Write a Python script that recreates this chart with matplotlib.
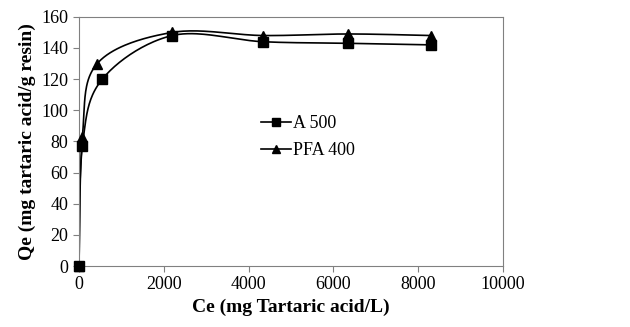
import numpy as np
import matplotlib.pyplot as plt

plt.rcParams['font.family'] = ['Liberation Serif', 'DejaVu Serif']

# data
ce_a500 = [0, 80, 550, 2200, 4350, 6350, 8300]
qe_a500 = [0, 77, 120, 148, 144, 143, 142]
ce_pfa400 = [0, 80, 430, 2200, 4350, 6350, 8300]
qe_pfa400 = [0, 83, 130, 150, 148, 149, 148]


def smooth(x, y, n=40):
    # catmull-rom style curve through the points (like excel smoothed lines)
    x = np.asarray(x, float)
    y = np.asarray(y, float)
    px = np.concatenate([[x[0]], x, [x[-1]]])
    py = np.concatenate([[y[0]], y, [y[-1]]])
    xs, ys = [], []
    t = np.linspace(0, 1, n)
    for i in range(1, len(px) - 2):
        p0, p1, p2, p3 = (np.array([px[j], py[j]]) for j in (i - 1, i, i + 1, i + 2))
        c1 = p1 + (p2 - p0) / 6
        c2 = p2 - (p3 - p1) / 6
        b = ((1 - t) ** 3)[:, None] * p1 + (3 * (1 - t) ** 2 * t)[:, None] * c1 \
            + (3 * (1 - t) * t ** 2)[:, None] * c2 + (t ** 3)[:, None] * p2
        xs.extend(b[:, 0])
        ys.extend(b[:, 1])
    return xs, ys


fig = plt.figure(figsize=(6.3, 3.27), dpi=100)
ax = fig.add_axes([0.1254, 0.1865, 0.673, 0.762])

sx, sy = smooth(ce_a500, qe_a500)
ax.plot(sx, sy, color='black', lw=1.2)
ax.plot(ce_a500, qe_a500, 's', color='black', ms=6.5, clip_on=False, zorder=5)
sx, sy = smooth(ce_pfa400, qe_pfa400)
ax.plot(sx, sy, color='black', lw=1.2)
ax.plot(ce_pfa400, qe_pfa400, '^', color='black', ms=6.5, clip_on=False, zorder=4)

h1, = ax.plot([], [], '-s', color='black', ms=5.5, lw=1.2)
h2, = ax.plot([], [], '-^', color='black', ms=5.5, lw=1.2)
ax.legend([h1, h2], ['A 500', 'PFA 400'], loc='upper left',
          bbox_to_anchor=(0.43, 0.605), frameon=False, fontsize=13,
          borderpad=0, borderaxespad=0,
          handlelength=1.65, handletextpad=0.1, labelspacing=0.55)

ax.set_xlim(0, 10000)
ax.set_ylim(0, 160)
ax.set_xticks(range(0, 10001, 2000))
ax.set_yticks(range(0, 161, 20))
for s in ax.spines.values():
    s.set_color('#808080')
ax.tick_params(colors='#808080', labelcolor='black', labelsize=13, length=4)
ax.set_xlabel('Ce (mg Tartaric acid/L)', fontsize=14, fontweight='bold')
ax.set_ylabel('Qe (mg tartaric acid/g resin)', fontsize=14, fontweight='bold')

fig.savefig('out.png', dpi=100)
